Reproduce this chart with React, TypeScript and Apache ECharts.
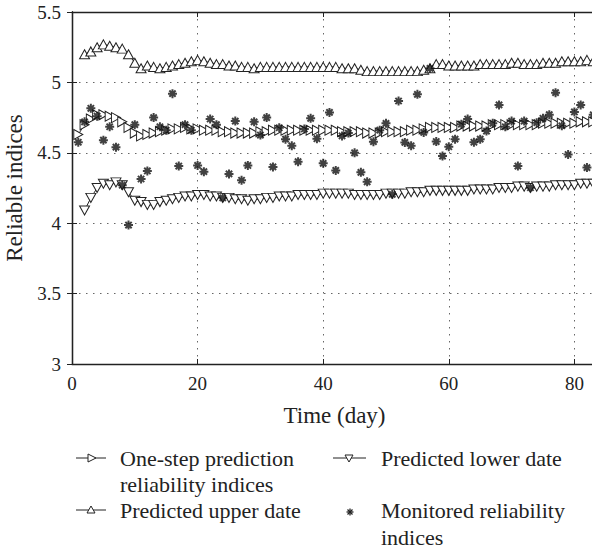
import { useEffect, useRef } from "react";
import * as echarts from "echarts";

// ---- data ----
const xTicks = [0, 20, 40, 60, 80];
const yTicks = [3, 3.5, 4, 4.5, 5, 5.5];

const predictedStartDay = 1;
const predicted = [
  4.63, 4.70, 4.74, 4.77, 4.77, 4.76, 4.75, 4.72, 4.68, 4.64,
  4.62, 4.63, 4.64, 4.65, 4.66, 4.67, 4.67, 4.68, 4.67, 4.67,
  4.66, 4.66, 4.66, 4.65, 4.65, 4.64, 4.64, 4.64, 4.64, 4.65,
  4.65, 4.66, 4.66, 4.66, 4.66, 4.66, 4.66, 4.66, 4.66, 4.66,
  4.66, 4.66, 4.65, 4.65, 4.65, 4.65, 4.64, 4.64, 4.64, 4.65,
  4.65, 4.65, 4.65, 4.66, 4.66, 4.67, 4.68, 4.68, 4.68, 4.68,
  4.68, 4.69, 4.69, 4.69, 4.69, 4.69, 4.70, 4.70, 4.70, 4.70,
  4.70, 4.70, 4.70, 4.70, 4.71, 4.71, 4.71, 4.71, 4.71, 4.71,
  4.72, 4.72, 4.72,
];

const boundStartDay = 2;
const upperBound = [
  5.20, 5.22, 5.25, 5.27, 5.26, 5.25, 5.24, 5.20, 5.14,
  5.10, 5.12, 5.11, 5.10, 5.11, 5.12, 5.13, 5.14, 5.15, 5.16,
  5.15, 5.14, 5.13, 5.13, 5.12, 5.12, 5.11, 5.11, 5.10, 5.11,
  5.11, 5.11, 5.11, 5.11, 5.11, 5.11, 5.11, 5.11, 5.11, 5.11,
  5.11, 5.11, 5.10, 5.10, 5.10, 5.09, 5.08, 5.08, 5.08, 5.08,
  5.08, 5.08, 5.08, 5.08, 5.08, 5.09, 5.10, 5.13, 5.13, 5.12,
  5.12, 5.12, 5.12, 5.12, 5.13, 5.13, 5.13, 5.13, 5.13, 5.14,
  5.14, 5.13, 5.13, 5.13, 5.14, 5.14, 5.14, 5.15, 5.15, 5.15,
  5.15, 5.16, 5.15,
];
const lowerBound = [
  4.09, 4.18, 4.25, 4.28, 4.27, 4.29, 4.27, 4.22, 4.16,
  4.15, 4.13, 4.13, 4.15, 4.16, 4.17, 4.18, 4.19, 4.19, 4.20,
  4.20, 4.19, 4.19, 4.18, 4.18, 4.17, 4.17, 4.16, 4.17, 4.17,
  4.18, 4.18, 4.19, 4.19, 4.19, 4.20, 4.20, 4.20, 4.20, 4.21,
  4.21, 4.21, 4.21, 4.21, 4.20, 4.20, 4.20, 4.20, 4.20, 4.21,
  4.21, 4.21, 4.21, 4.22, 4.22, 4.22, 4.23, 4.23, 4.23, 4.23,
  4.23, 4.23, 4.23, 4.24, 4.24, 4.24, 4.24, 4.25, 4.25, 4.25,
  4.26, 4.26, 4.25, 4.26, 4.26, 4.26, 4.27, 4.27, 4.27, 4.27,
  4.28, 4.28, 4.28,
];

const monitoredStartDay = 1;
const monitored = [
  4.575, 4.72, 4.816, 4.76, 4.59, 4.685, 4.54, 4.27, 3.987, 4.70,
  4.314, 4.371, 4.75, 4.685, 4.66, 4.92, 4.406, 4.70, 4.66, 4.41,
  4.366, 4.74, 4.70, 4.18, 4.35, 4.725, 4.305, 4.41, 4.72, 4.626,
  4.75, 4.40, 4.678, 4.597, 4.55, 4.437, 4.669, 4.745, 4.60, 4.425,
  4.787, 4.375, 4.62, 4.64, 4.50, 4.361, 4.294, 4.579, 4.661, 4.709,
  4.205, 4.868, 4.574, 4.55, 4.915, 4.645, 5.10, 4.58, 4.477, 4.543,
  4.597, 4.703, 4.74, 4.575, 4.597, 4.654, 4.709, 4.84, 4.685, 4.725,
  4.406, 4.725, 4.252, 4.714, 4.745, 4.771, 4.927, 4.692, 4.488, 4.79,
  4.84, 4.395, 4.77,
];

const seriesNames = [
  "One-step prediction reliability indices",
  "Predicted upper date",
  "Predicted lower date",
  "Monitored reliability indices",
];

// ---- styles ----
const FONT = "Liberation Serif";
const INK = "#222";
const RIGHT_TRI = "path://M0,0L10,5L0,10Z";
const DOWN_TRI = "path://M0,0L10,0L5,10Z";
const UP_TRI = "path://M5,0L10,10L0,10Z";
const STAR = "path://M5,0L5,10M0,5L10,5M1.5,1.5L8.5,8.5M1.5,8.5L8.5,1.5";
const TICK_FONT = 19;
const NAME_FONT = 23;
const LEGEND_FONT = 22;

const toPairs = (arr: number[], start: number) => arr.map((v, i) => [i + start, v]);

function legendGraphics() {
  const g: any[] = [];
  const lineSeg = (x1: number, x2: number, y: number) => ({
    type: "line",
    shape: { x1, y1: y, x2, y2: y },
    style: { stroke: INK, lineWidth: 1 },
    silent: true,
  });
  const poly = (pts: number[][]) => ({
    type: "polygon",
    shape: { points: pts },
    style: { fill: "#fff", stroke: INK, lineWidth: 1 },
    silent: true,
  });
  const txt = (x: number, y: number, text: string) => ({
    type: "text",
    x,
    y,
    style: {
      text,
      fontFamily: FONT,
      fontSize: LEGEND_FONT,
      fill: INK,
      align: "left",
      verticalAlign: "middle",
    },
    silent: true,
  });
  // row 1, col 1: one-step prediction (right triangle)
  g.push(lineSeg(76, 106, 458));
  g.push(poly([[88, 454], [96, 458], [88, 462]]));
  g.push(txt(120, 458, "One-step prediction"));
  g.push(txt(120, 484, "reliability indices"));
  // row 1, col 2: lower (down triangle)
  g.push(lineSeg(333, 366, 458));
  g.push(poly([[345, 455], [353, 455], [349, 462]]));
  g.push(txt(381, 458, "Predicted lower date"));
  // row 2, col 1: upper (up triangle)
  g.push(lineSeg(76, 106, 510));
  g.push(poly([[87, 513], [95, 513], [91, 506]]));
  g.push(txt(120, 510, "Predicted upper date"));
  // row 2, col 2: monitored (asterisk)
  const cx = 350, cy = 512, r = 3.5, d = 2.5;
  [
    [cx, cy - r, cx, cy + r],
    [cx - r, cy, cx + r, cy],
    [cx - d, cy - d, cx + d, cy + d],
    [cx - d, cy + d, cx + d, cy - d],
  ].forEach(([x1, y1, x2, y2]) =>
    g.push({
      type: "line",
      shape: { x1, y1, x2, y2 },
      style: { stroke: INK, lineWidth: 1.3 },
      silent: true,
    })
  );
  g.push(txt(381, 510, "Monitored reliability"));
  g.push(txt(381, 537, "indices"));
  return g;
}

export default function App() {
  const ref = useRef<HTMLDivElement>(null);
  useEffect(() => {
    if (!ref.current) return;
    const chart = echarts.init(ref.current, undefined, { renderer: "svg" });
    const axisCommon = {
      axisLine: { show: true, lineStyle: { color: INK, width: 1.3 } },
      axisTick: { show: true, inside: true, length: 5, lineStyle: { color: INK, width: 1 } },
    };
    const gridLine = { show: true, lineStyle: { color: "#666", width: 1, type: [1.5, 5.5] } };
    const labelStyle = { fontFamily: FONT, fontSize: TICK_FONT, color: INK };
    const nameStyle = { fontFamily: FONT, fontSize: NAME_FONT, color: INK };
    chart.setOption({
      animation: false,
      backgroundColor: "#fff",
      grid: {
        left: 72,
        right: 3,
        top: 12,
        bottom: 188,
        containLabel: false,
        outerBoundsMode: "none",
      },
      xAxis: [
        {
          type: "value",
          position: "bottom",
          min: xTicks[0],
          max: 83.6,
          interval: xTicks[1] - xTicks[0],
          ...axisCommon,
          splitLine: gridLine,
          axisLabel: { ...labelStyle, margin: 10, showMaxLabel: false },
          name: "Time (day)",
          nameLocation: "middle",
          nameGap: 40,
          nameTextStyle: nameStyle,
        },
        {
          type: "value",
          position: "top",
          min: xTicks[0],
          max: 83.6,
          interval: xTicks[1] - xTicks[0],
          ...axisCommon,
          splitLine: { show: false },
          axisLabel: { show: false },
        },
      ],
      yAxis: [
        {
          type: "value",
          position: "left",
          min: yTicks[0],
          max: yTicks[yTicks.length - 1],
          interval: yTicks[1] - yTicks[0],
          ...axisCommon,
          splitLine: gridLine,
          axisLabel: { ...labelStyle, margin: 11 },
          name: "Reliable indices",
          nameLocation: "middle",
          nameGap: 40,
          nameRotate: 90,
          nameTextStyle: nameStyle,
        },
        {
          type: "value",
          position: "right",
          min: yTicks[0],
          max: yTicks[yTicks.length - 1],
          interval: yTicks[1] - yTicks[0],
          ...axisCommon,
          splitLine: { show: false },
          axisLabel: { show: false },
        },
      ],
      series: [
        {
          name: seriesNames[1],
          type: "line",
          data: toPairs(upperBound, boundStartDay),
          symbol: UP_TRI,
          symbolSize: [10, 9],
          lineStyle: { color: INK, width: 1 },
          itemStyle: { color: "#fff", borderColor: INK, borderWidth: 1 },
          z: 3,
        },
        {
          name: seriesNames[0],
          type: "line",
          data: toPairs(predicted, predictedStartDay),
          symbol: RIGHT_TRI,
          symbolSize: [9, 10],
          lineStyle: { color: INK, width: 1 },
          itemStyle: { color: "#fff", borderColor: INK, borderWidth: 1 },
          z: 3,
        },
        {
          name: seriesNames[2],
          type: "line",
          data: toPairs(lowerBound, boundStartDay),
          symbol: DOWN_TRI,
          symbolSize: [10, 9],
          lineStyle: { color: INK, width: 1 },
          itemStyle: { color: "#fff", borderColor: INK, borderWidth: 1 },
          z: 3,
        },
        {
          name: seriesNames[3],
          type: "scatter",
          data: toPairs(monitored, monitoredStartDay),
          symbol: STAR,
          symbolSize: 9,
          itemStyle: { color: "transparent", borderColor: "#111", borderWidth: 2 },
          z: 4,
        },
      ],
      graphic: legendGraphics(),
    });
    return () => chart.dispose();
  }, []);
  return (
    <div
      style={{
        position: "absolute",
        left: 0,
        top: 0,
        width: 592,
        height: 552,
        overflow: "hidden",
        background: "#fff",
      }}
    >
      <div ref={ref} style={{ width: 600, height: 552 }} />
    </div>
  );
}
